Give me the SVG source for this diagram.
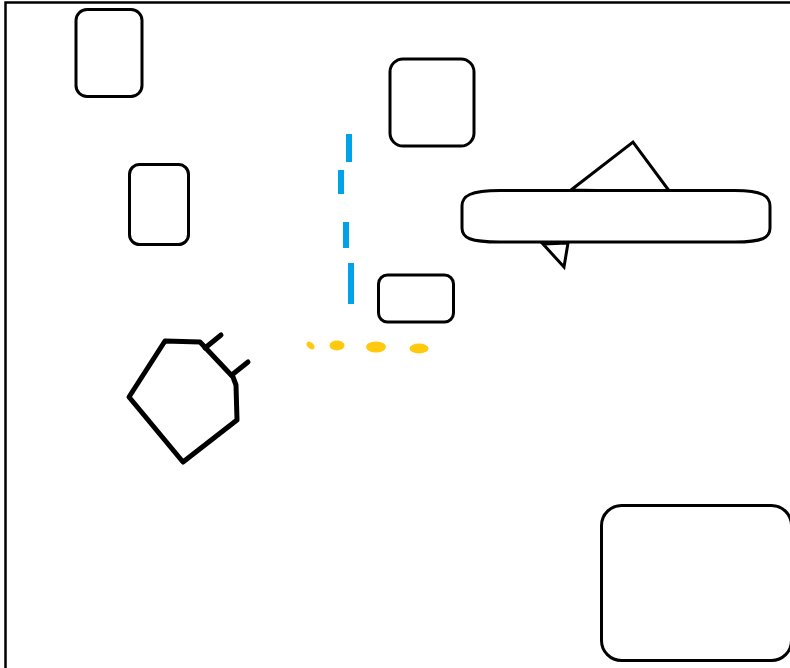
<svg xmlns="http://www.w3.org/2000/svg" width="790" height="668" viewBox="0 0 790 668">
<style>
.box{fill:none;stroke:#000;stroke-width:3}
.thick{fill:none;stroke:#000;stroke-width:5;stroke-linejoin:round;stroke-linecap:round}
.blue{stroke:#00A2E8;stroke-width:6}
.yel{fill:#FFC90E}
</style>
<rect x="0" y="0" width="790" height="668" fill="#fff"/>
<path d="M5.5 668 V2.5 H790" fill="none" stroke="#000" stroke-width="2.5"/>
<g id="n1"><rect class="box" x="76" y="9.5" width="66" height="87" rx="11"/></g>
<g id="n2"><rect class="box" x="129.5" y="164.5" width="59" height="80" rx="10"/></g>
<g id="n3"><rect class="box" x="390" y="59" width="84" height="87" rx="13"/></g>
<g id="n4"><rect class="box" x="378.5" y="275" width="75" height="47" rx="9"/></g>
<g id="n5"><rect class="box" x="601.5" y="505.5" width="190" height="155" rx="20"/></g>
<g id="n6">
<polygon class="box" points="571,190 633,142 670,192"/>
<line x1="597" y1="192" x2="670" y2="192" stroke="#000" stroke-width="4"/>
<polygon class="box" points="543,244 564,267 568,243"/>
<path class="box" style="fill:#fff" d="M500 190.5 L735 190.5 C762 190.5 770 196 770 206 L770 228 C770 238 762 242 735 242 L500 242 C470 242 462 238 462 228 L462 206 C462 196 470 190.5 500 190.5 Z"/>
</g>
<g id="n7">
<polygon class="thick" points="165,341 200,342 233,377 236,385 237,420 183,462 129,397"/>
<line class="thick" x1="205" y1="348" x2="221" y2="335" stroke-width="4"/>
<line class="thick" x1="233" y1="374" x2="248" y2="362" stroke-width="4"/>
</g>
<g id="connectors">
<line class="blue" x1="349" y1="134" x2="349" y2="162"/>
<line class="blue" x1="341" y1="170" x2="341" y2="194"/>
<line class="blue" x1="346" y1="222" x2="346" y2="248"/>
<line class="blue" x1="351" y1="263" x2="351" y2="304"/>
<ellipse class="yel" cx="310.5" cy="345.5" rx="4.5" ry="3" transform="rotate(40 310.5 345.5)"/>
<ellipse class="yel" cx="337" cy="345.5" rx="7.5" ry="5"/>
<ellipse class="yel" cx="376" cy="347" rx="10" ry="5.5"/>
<ellipse class="yel" cx="419" cy="348.5" rx="9.5" ry="5"/>
</g>
</svg>
